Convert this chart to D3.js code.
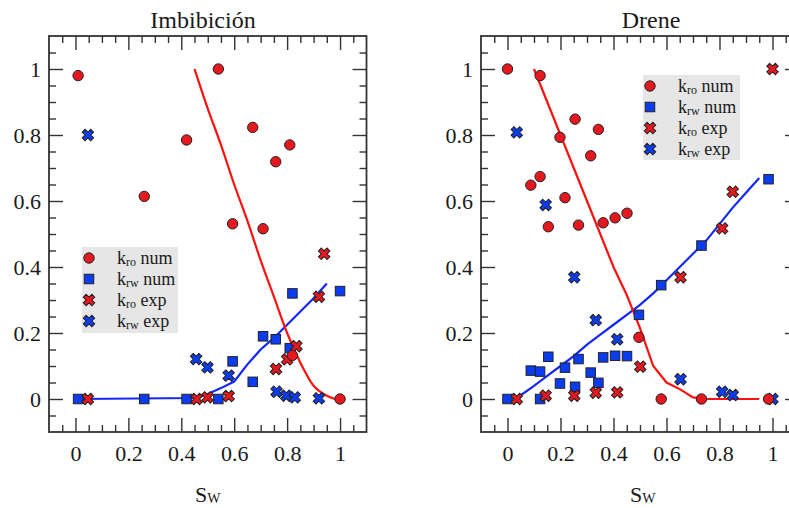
<!DOCTYPE html>
<html><head><meta charset="utf-8">
<script src="https://cdn.jsdelivr.net/npm/d3@7"></script>
<style>
body{margin:0;background:#fff}
svg{display:block}
text{font-family:"Liberation Serif","Times New Roman",serif;fill:#1a1a1a}
</style>
</head><body><svg id="c" width="789" height="508"></svg>
<script>
// ---------- data ----------
const majorTicks = [0, 0.2, 0.4, 0.6, 0.8, 1];
const tickLabels = ["0", "0.2", "0.4", "0.6", "0.8", "1"];
const titles = ["Imbibición", "Drene"];
const legendSubs = ["ro", "rw", "ro", "rw"];
const legendTails = [" num", " num", " exp", " exp"];

// Imbibición
const imbSwNum   = [0.01, 0.26, 0.42, 0.54, 0.594, 0.67, 0.709, 0.757, 0.81, 0.82, 1.0];
const imbKroNum  = [0.98, 0.614, 0.785, 1.0, 0.531, 0.823, 0.516, 0.719, 0.77, 0.132, 0];
const imbKrwNum  = [0, 0, 0, 0, 0.114, 0.052, 0.19, 0.181, 0.154, 0.32, 0.327];
const imbSwKroExp = [0.047, 0.458, 0.499, 0.579, 0.758, 0.80, 0.835, 0.92, 0.94];
const imbKroExp   = [0, 0, 0.005, 0.009, 0.091, 0.12, 0.16, 0.31, 0.44];
const imbSwKrwExp = [0.047, 0.456, 0.499, 0.579, 0.76, 0.797, 0.829, 0.92];
const imbKrwExp   = [0.80, 0.121, 0.096, 0.071, 0.022, 0.01, 0.005, 0.002];
const imbSwKroLine = [0.45, 0.5, 0.55, 0.6, 0.65, 0.7, 0.75, 0.8, 0.85, 0.9, 0.95, 0.98];
const imbKroLine   = [1.0, 0.88, 0.77, 0.65, 0.54, 0.42, 0.31, 0.2, 0.11, 0.04, 0.01, 0];
const imbSwKrwLine = [0.01, 0.45, 0.5, 0.55, 0.6, 0.65, 0.7, 0.75, 0.8, 0.85, 0.9, 0.95];
const imbKrwLine   = [0, 0.003, 0.015, 0.033, 0.053, 0.105, 0.15, 0.185, 0.225, 0.265, 0.305, 0.35];

// Drene
const drnSwNum  = [0.0, 0.088, 0.123, 0.123, 0.154, 0.198, 0.217, 0.255, 0.268, 0.314, 0.343, 0.361, 0.406, 0.451, 0.496, 0.58, 0.732, 0.985];
const drnKroNum = [1.0, 0.648, 0.674, 0.98, 0.522, 0.793, 0.61, 0.848, 0.527, 0.737, 0.817, 0.534, 0.549, 0.563, 0.187, 0, 0, 0];
const drnKrwNum = [0, 0.086, 0.083, 0, 0.128, 0.047, 0.095, 0.037, 0.121, 0.08, 0.049, 0.126, 0.131, 0.13, 0.255, 0.345, 0.465, 0.666];
const drnSwKroExp = [0.035, 0.144, 0.252, 0.333, 0.414, 0.501, 0.653, 0.81, 0.85, 1.0];
const drnKroExp   = [0, 0.01, 0.01, 0.019, 0.02, 0.098, 0.369, 0.517, 0.628, 1.0];
const drnSwKrwExp = [0.035, 0.144, 0.252, 0.333, 0.414, 0.653, 0.81, 0.85, 1.0];
const drnKrwExp   = [0.808, 0.588, 0.369, 0.239, 0.181, 0.06, 0.022, 0.012, 0];
const drnSwKroLine = [0.1, 0.15, 0.2, 0.25, 0.3, 0.35, 0.4, 0.45, 0.5, 0.55, 0.6, 0.65, 0.7, 0.75, 0.8, 0.85, 0.9, 0.95];
const drnKroLine   = [1.0, 0.9, 0.8, 0.7, 0.6, 0.5, 0.4, 0.315, 0.215, 0.1, 0.05, 0.03, 0.005, 0, 0, 0, 0, 0];
const drnSwKrwLine = [0.03, 0.1, 0.15, 0.2, 0.25, 0.3, 0.35, 0.4, 0.45, 0.5, 0.55, 0.6, 0.65, 0.7, 0.75, 0.8, 0.85, 0.9, 0.95];
const drnKrwLine   = [0, 0.04, 0.07, 0.1, 0.13, 0.165, 0.195, 0.225, 0.255, 0.285, 0.32, 0.36, 0.4, 0.44, 0.48, 0.53, 0.58, 0.625, 0.67];

// ---------- style ----------
const RED = "#e3191f", BLUE = "#0b3cf0";
const RED_LINE = "#ff1010", BLUE_LINE = "#1428f5";
const FRAME = "#333";
const minorTicks = d3.range(-0.05, 1.09, 0.05).map(v => +v.toFixed(2)).filter(v => !majorTicks.some(m => Math.abs(m - v) < 1e-6));

const svg = d3.select("#c");
const y = d3.scaleLinear().domain([-0.1, 1.1]).range([432, 36]);
const zip = (a, b) => a.map((v, i) => [v, b[i]]);

const xSymbol = d3.symbol().type(d3.symbolCross).size(82);

function panel(opt) {
  const x = d3.scaleLinear().domain([-0.1, 1.1]).range(opt.xr);
  const g = svg.append("g");
  const [x0, x1] = opt.xr, y0 = 36, y1 = 432;

  const fmt = d => tickLabels[majorTicks.indexOf(d)];
  function ax(gen, tx, ty, ticks, size, labels) {
    const a = gen.tickValues(ticks).tickSize(-size).tickSizeOuter(0);
    if (labels) a.tickFormat(fmt); else a.tickFormat("");
    const s = g.append("g").attr("transform", `translate(${tx},${ty})`).call(a);
    s.select(".domain").remove();
    s.selectAll("line").attr("stroke", FRAME).attr("stroke-width", 1.4);
    s.selectAll("text").attr("font-size", 22).attr("fill", "#1a1a1a")
      .style("font-family", '"Liberation Serif","Times New Roman",serif');
    return s;
  }
  ax(d3.axisBottom(x).tickPadding(13), 0, y1, majorTicks, 14, true);
  ax(d3.axisBottom(x), 0, y1, minorTicks, 7, false);
  ax(d3.axisTop(x), 0, y0, majorTicks, 14, false);
  ax(d3.axisTop(x), 0, y0, minorTicks, 7, false);
  ax(d3.axisLeft(y).tickPadding(8), x0, 0, majorTicks, 14, true);
  ax(d3.axisLeft(y), x0, 0, minorTicks, 7, false);
  ax(d3.axisRight(y), x1, 0, majorTicks, 14, false);
  ax(d3.axisRight(y), x1, 0, minorTicks, 7, false);

  g.append("rect").attr("x", x0).attr("y", y0).attr("width", x1 - x0).attr("height", y1 - y0)
    .attr("fill", "none").attr("stroke", FRAME).attr("stroke-width", 1.8);

  g.append("text").attr("x", opt.titleX).attr("y", 28).attr("text-anchor", "middle")
    .attr("font-size", 24).attr("fill", "#111").text(opt.title);

  const xl = g.append("text").attr("x", opt.labelX).attr("y", 502).attr("font-size", 22).attr("fill", "#111");
  xl.append("tspan").text("S");
  xl.append("tspan").attr("font-size", 14).attr("dy", 1).text("W");

  const line = d3.line().x(d => x(d[0])).y(d => y(d[1]));
  g.append("path").datum(zip(opt.krwLineX, opt.krwLine))
    .attr("d", line.curve(d3.curveLinear)).attr("fill", "none").attr("stroke", BLUE_LINE).attr("stroke-width", 2.2);
  g.append("path").datum(zip(opt.kroLineX, opt.kroLine))
    .attr("d", line.curve(opt.redCurve)).attr("fill", "none").attr("stroke", RED_LINE).attr("stroke-width", 2.2);

  const sq = 9.5;
  g.append("g").selectAll("rect").data(zip(opt.swNum, opt.krwNum)).join("rect")
    .attr("x", d => x(d[0]) - sq / 2).attr("y", d => y(d[1]) - sq / 2)
    .attr("width", sq).attr("height", sq).attr("fill", BLUE).attr("stroke", "#222").attr("stroke-width", 1);
  g.append("g").selectAll("path").data(zip(opt.swKrwExp, opt.krwExp)).join("path")
    .attr("d", xSymbol).attr("transform", d => `translate(${x(d[0])},${y(d[1])}) rotate(45)`)
    .attr("fill", BLUE).attr("stroke", "#222").attr("stroke-width", 1);
  g.append("g").selectAll("path").data(zip(opt.swKroExp, opt.kroExp)).join("path")
    .attr("d", xSymbol).attr("transform", d => `translate(${x(d[0])},${y(d[1])}) rotate(45)`)
    .attr("fill", RED).attr("stroke", "#222").attr("stroke-width", 1);
  g.append("g").selectAll("circle").data(zip(opt.swNum, opt.kroNum)).join("circle")
    .attr("cx", d => x(d[0])).attr("cy", d => y(d[1])).attr("r", 5.2)
    .attr("fill", RED).attr("stroke", "#222").attr("stroke-width", 1);

  const [lx, ly, lw, lh] = opt.legend;
  const lg = g.append("g");
  lg.append("rect").attr("x", lx).attr("y", ly).attr("width", lw).attr("height", lh).attr("fill", "#e6e6e6");
  legendSubs.forEach((sub, i) => {
    const cy = ly + 11 + i * 21, cx = lx + 7;
    if (i === 0) lg.append("circle").attr("cx", cx).attr("cy", cy).attr("r", 5.2).attr("fill", RED).attr("stroke", "#222");
    if (i === 1) lg.append("rect").attr("x", cx - sq / 2).attr("y", cy - sq / 2).attr("width", sq).attr("height", sq).attr("fill", BLUE).attr("stroke", "#222");
    if (i >= 2) lg.append("path").attr("d", xSymbol).attr("transform", `translate(${cx},${cy}) rotate(45)`)
      .attr("fill", i === 2 ? RED : BLUE).attr("stroke", "#222");
    const t = lg.append("text").attr("x", lx + 35).attr("y", cy + 6).attr("font-size", 18).attr("fill", "#111");
    t.append("tspan").text("k");
    t.append("tspan").attr("font-size", 12).attr("dy", 2).text(sub);
    t.append("tspan").attr("dy", -2).text(legendTails[i]);
  });
}

panel({
  xr: [49, 366.5], title: titles[0], titleX: 203, labelX: 195,
  swNum: imbSwNum, kroNum: imbKroNum, krwNum: imbKrwNum,
  swKroExp: imbSwKroExp, kroExp: imbKroExp, swKrwExp: imbSwKrwExp, krwExp: imbKrwExp,
  kroLineX: imbSwKroLine, kroLine: imbKroLine, krwLineX: imbSwKrwLine, krwLine: imbKrwLine,
  redCurve: d3.curveMonotoneX, legend: [82, 247, 96, 86]
});
panel({
  xr: [481, 799], title: titles[1], titleX: 651, labelX: 630,
  swNum: drnSwNum, kroNum: drnKroNum, krwNum: drnKrwNum,
  swKroExp: drnSwKroExp, kroExp: drnKroExp, swKrwExp: drnSwKrwExp, krwExp: drnKrwExp,
  kroLineX: drnSwKroLine, kroLine: drnKroLine, krwLineX: drnSwKrwLine, krwLine: drnKrwLine,
  redCurve: d3.curveLinear, legend: [643, 75, 97, 85]
});
</script>
</body></html>
